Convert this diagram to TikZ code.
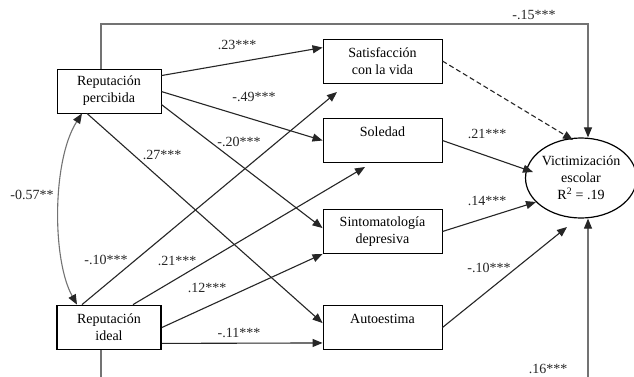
\documentclass[tikz,border=0pt]{standalone}
\usepackage{fontspec}
\setmainfont{Liberation Serif}
\usetikzlibrary{arrows.meta,shapes.geometric,calc}
\begin{document}
\begin{tikzpicture}[x=1pt,y=-1pt,
  every node/.style={font=\fontsize{14}{17}\selectfont, inner sep=0pt},
  varbox/.style={draw=black, line width=0.9pt, rectangle, minimum width=119, minimum height=44, align=center},
  srcbox/.style={draw=black, line width=0.9pt, rectangle, minimum width=104, minimum height=44, align=center},
  tip/.style={-{Triangle[length=10pt,width=8pt]}},
  path/.style={draw=black!85, line width=1.1pt, tip},
  grayline/.style={draw=black!55, line width=1.1pt},
  darktip/.style={-{Triangle[length=10pt,width=8pt,color=black!85]}},
  coef/.style={font=\fontsize{14}{17}\selectfont, text=black!85}
]
\clip (0,0) rectangle (634,376);
\fill[white] (0,0) rectangle (634,376);

% nodes
\node[srcbox] (perc) at (109,91) {Reputación\\percibida};
\node[srcbox, line width=1.8pt] (ideal) at (109,327.5) {Reputación\\ideal};
\node[varbox] (satis) at (382.5,61) {Satisfacción\\con la vida};
\node[varbox] (sole) at (382.5,140.5) {Soledad\\\mbox{}};
\node[varbox] (sinto) at (382.5,231.5) {Sintomatología\\depresiva};
\node[varbox] (auto) at (382.5,327.5) {Autoestima\\\mbox{}};
\node[draw=black, line width=1.2pt, ellipse, minimum width=104, minimum height=80, align=center] (ell) at (581,178) {Victimización\\escolar\\R\textsuperscript{2} = .19};

% free-end coordinates
\coordinate (tr) at (588,24);
\coordinate (bl) at (101,395);
\coordinate (br) at (588,395);
\coordinate (tSatI) at (337,92);
\coordinate (tSolI) at (365,167);
\coordinate (tEllSat) at (573,140);
\coordinate (tEllSol) at (533,172);
\coordinate (tEllSin) at (536,202);
\coordinate (tEllAut) at (567,227);

% correlation
\draw[grayline, {Triangle[length=10pt,width=8pt,color=black!85]}-{Triangle[length=10pt,width=8pt,color=black!85]}]
  ($(perc.south)+(-27,0)$) .. controls (52,160) and (52,260) .. ($(ideal.north)+(-32,0)$);

% top and bottom direct paths
\draw[grayline, darktip] ($(perc.north)+(-8,0)$) |- (tr) -- (ell.north -| tr);
\draw[grayline] ($(ideal.south)+(-8,0)$) -- (bl) -- (br);
\draw[grayline, darktip] (br) -- (ell.south -| br);

% from Reputacion percibida
\draw[path] ($(perc.north east)+(0,7)$) -- ($(satis.north west)+(0,9)$);
\draw[path] ($(perc.north east)+(0,23)$) -- (sole.west);
\draw[path] ($(perc.north east)+(0,36)$) -- ($(sinto.north west)+(0,19)$);
\draw[path] ($(perc.south)+(-22,0)$) -- ($(auto.north west)+(0,18)$);

% from Reputacion ideal
\draw[path] ($(ideal.north)+(-27,0)$) -- (tSatI);
\draw[path] ($(ideal.north)+(24,0)$) -- (tSolI);
\draw[path] (ideal.east) -- (sinto.south west);
\draw[path] ($(ideal.south east)+(0,-7)$) -- ($(auto.south west)+(0,-7)$);

% to Victimizacion
\draw[path, dash pattern=on 5pt off 3pt] (satis.east) -- (tEllSat);
\draw[path] (sole.east) -- (tEllSol);
\draw[path] (sinto.east) -- (tEllSin);
\draw[path] (auto.east) -- (tEllAut);

% coefficients
\node[coef] (c1) at (237,45) {.23***};
\node[coef] (c2) at (254,97) {-.49***};
\node[coef] (c3) at (239,142) {-.20***};
\node[coef] (c4) at (162,155) {.27***};
\node[coef] (c5) at (32,195) {-0.57**};
\node[coef] (c6) at (106,260) {-.10***};
\node[coef] (c7) at (177,261) {.21***};
\node[coef] (c8) at (207,288) {.12***};
\node[coef] (c9) at (239,333) {-.11***};
\node[coef] (c10) at (534,15) {-.15***};
\node[coef] (c11) at (487,134) {.21***};
\node[coef] (c12) at (487,201) {.14***};
\node[coef] (c13) at (489,268) {-.10***};
\node[coef] (c14) at (548,369) {.16***};
\end{tikzpicture}
\end{document}
